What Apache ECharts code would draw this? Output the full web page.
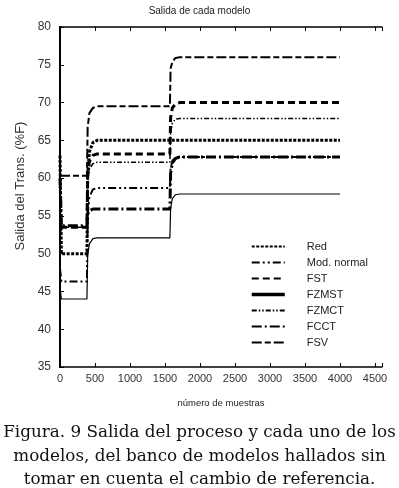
<!DOCTYPE html>
<html>
<head>
<meta charset="utf-8">
<script src="https://cdn.jsdelivr.net/npm/echarts@6/dist/echarts.min.js"></script>
<style>
html, body { margin: 0; padding: 0; background: #fff; }
#chart { width: 399px; height: 488px; }
</style>
</head>
<body>
<div id="chart"></div>
<script>
// instantes (muestras) donde se leen los valores de cada curva
var muestras  = [0, 20, 385, 395, 420, 470, 530, 1570, 1580, 1605, 1650, 1710, 4000];
var real      = [63, 50, 50, 60.5, 63.5, 64.7, 65, 65, 65, 65, 65, 65, 65];
var modNormal = [48, 46.3, 46.3, 55.0, 57.5, 58.5, 58.7, 58.7, 61.2, 62.3, 62.7, 62.8, 62.8];
var fst       = [53.5, 53.5, 53.5, 60.3, 62.2, 63.0, 63.2, 63.2, 68.0, 69.3, 69.8, 70, 70];
var fzmst     = [45.5, 44, 44, 49.8, 51.3, 52.0, 52.1, 52.1, 56.0, 57.3, 57.8, 57.9, 57.9];
var fzmct     = [52, 53.5, 53.5, 59.5, 61.2, 61.9, 62.1, 62.1, 66.0, 67.3, 67.8, 67.9, 67.9];
var fcct      = [60, 53.7, 53.7, 55.2, 55.7, 55.9, 55.9, 55.9, 60.6, 62.0, 62.6, 62.8, 62.8];
var fsv       = [60.3, 60.3, 60.3, 66.7, 68.6, 69.3, 69.5, 69.5, 74.5, 75.4, 75.9, 76, 76];
var xTicks    = [0, 500, 1000, 1500, 2000, 2500, 3000, 3500, 4000, 4500];

function pares(vals) {
    return muestras.map(function (x, i) { return [x, vals[i]]; });
}

var fuente = 'Liberation Sans, Arial, sans-serif';
var myChart = echarts.init(document.getElementById('chart'));

function linea(name, vals, width, type) {
    return {
        name: name,
        type: 'line',
        symbol: 'none',
        showSymbol: false,
        silent: true,
        color: '#000',
        data: pares(vals),
        lineStyle: { color: '#000', width: width, type: type }
    };
}

var option = {
    backgroundColor: '#fff',
    animation: false,
    color: ['#000'],
    title: {
        text: 'Salida de cada modelo',
        left: 'center',
        top: 1,
        textStyle: { fontFamily: fuente, fontSize: 10, fontWeight: 'normal', color: '#222' }
    },
    graphic: [{
        type: 'text',
        left: 'center',
        top: 421,
        style: {
            text: 'Figura. 9 Salida del proceso y cada uno de los\nmodelos, del banco de modelos hallados sin\ntomar en cuenta el cambio de referencia.',
            textAlign: 'center',
            font: '16.8px "DejaVu Serif"',
            fill: '#111',
            lineHeight: 23.5
        }
    }],
    grid: { left: 60, right: 17, top: 27, bottom: 121 },
    legend: {
        orient: 'vertical',
        left: 245,
        top: 236,
        itemWidth: 33,
        itemHeight: 12,
        itemGap: 5,
        itemStyle: { opacity: 0 },
        textStyle: { fontFamily: fuente, fontSize: 11, color: '#222', padding: [0, 0, 0, 17] },
        data: [
            { name: 'Red' }, { name: 'Mod. normal' }, { name: 'FST' },
            { name: 'FZMST', lineStyle: { width: 3.5 } },
            { name: 'FZMCT' }, { name: 'FCCT' }, { name: 'FSV' }
        ]
    },
    xAxis: [{
        type: 'value',
        min: 0,
        max: 4600,
        interval: 500,
        name: 'número de muestras',
        nameLocation: 'middle',
        nameGap: 31,
        nameTextStyle: { fontFamily: fuente, fontSize: 9.5, color: '#222' },
        axisLine: { lineStyle: { color: '#000', width: 1.5 } },
        axisTick: { inside: true, length: 4, lineStyle: { color: '#000' } },
        axisLabel: {
            margin: 6,
            fontFamily: fuente,
            fontSize: 11,
            color: '#333',
            formatter: function (v) { return xTicks.indexOf(v) >= 0 ? String(v) : ''; }
        },
        splitLine: { show: false }
    }, {
        type: 'value',
        position: 'top',
        min: 0,
        max: 4600,
        interval: 500,
        axisLine: { lineStyle: { color: '#000', width: 1.5 } },
        axisTick: { inside: true, length: 4, lineStyle: { color: '#000' } },
        axisLabel: { show: false },
        splitLine: { show: false }
    }],
    yAxis: [{
        type: 'value',
        min: 35,
        max: 80,
        interval: 5,
        name: 'Salida del Trans. (%F)',
        nameLocation: 'middle',
        nameGap: 29,
        nameTextStyle: { fontFamily: fuente, fontSize: 13, color: '#333', padding: [0, 0, 0, 22] },
        axisLine: { lineStyle: { color: '#000', width: 1.8 } },
        axisTick: { inside: true, length: 4, lineStyle: { color: '#000' } },
        axisLabel: { margin: 9, fontFamily: fuente, fontSize: 12, color: '#333' },
        splitLine: { show: false }
    }, {
        type: 'value',
        position: 'right',
        min: 35,
        max: 80,
        interval: 5,
        axisLine: { show: true, lineStyle: { color: '#000', width: 1.8 } },
        axisTick: { show: false },
        axisLabel: { show: false },
        splitLine: { show: false }
    }],
    series: [
        linea('Red', real, 3, [3, 1.5]),
        linea('Mod. normal', modNormal, 2, [8, 3, 2, 3, 2, 3]),
        linea('FST', fst, 3, [7, 4]),
        linea('FZMST', fzmst, 1.2, 'solid'),
        linea('FZMCT', fzmct, 1.5, [5, 2, 1.5, 2, 1.5, 2]),
        linea('FCCT', fcct, 3, [10, 3, 2, 3]),
        linea('FSV', fsv, 2, [10, 3, 6, 3])
    ]
};
myChart.setOption(option);
</script>
</body>
</html>
